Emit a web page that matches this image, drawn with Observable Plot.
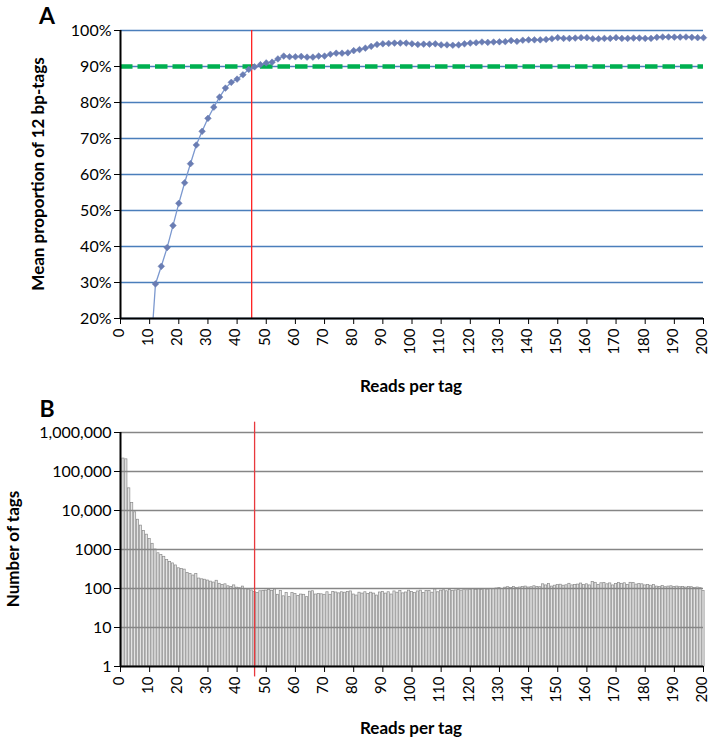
<!DOCTYPE html>
<html><head><meta charset="utf-8">
<script src="https://cdn.jsdelivr.net/npm/d3@7"></script>
<script src="https://cdn.jsdelivr.net/npm/@observablehq/plot@0.6"></script>
<style>
body{margin:0;background:#fff;}
#wrap{position:relative;width:709px;height:740px;font-family:Lato,"Open Sans",sans-serif;color:#000;}
#wrap svg{position:absolute;left:0;}
.abs{position:absolute;white-space:nowrap;line-height:1;}
.panel{font-weight:bold;font-size:23px;transform:translate(-50%,-50%);}
.title{font-weight:bold;font-size:17px;}
.vt{transform:translate(-50%,-50%) rotate(-90deg);}
.ht{transform:translate(-50%,-50%);}
</style></head><body><div id="wrap">
<div class="abs panel" style="left:47px;top:15px">A</div>
<div class="abs panel" style="left:47px;top:408px">B</div>
<div class="abs title vt" style="left:37px;top:174px">Mean proportion of 12 bp-tags</div>
<div class="abs title ht" style="left:411px;top:385px">Reads per tag</div>
<div class="abs title vt" style="left:12px;top:549px">Number of tags</div>
<div class="abs title ht" style="left:411px;top:727px">Reads per tag</div>
</div>
<script>
// ---- Panel A: mean proportion of 12 bp-tags vs reads per tag ----
const readsA = [10,12,14,16,18,20,22,24,26,28,30,32,34,36,38,40,42,44,46,48,50,
  52,54,56,58,60,62,64,66,68,70,72,74,76,78,80,82,84,86,88,90,92,94,96,98,100,
  102,104,106,108,110,112,114,116,118,120,122,124,126,128,130,132,134,136,138,140,
  142,144,146,148,150,152,154,156,158,160,162,164,166,168,170,172,174,176,178,180,
  182,184,186,188,190,192,194,196,198,200];
const proportionA = [6,29.6,34.5,39.7,45.8,52.0,57.7,63.0,68.2,72.0,75.6,78.7,81.5,84.0,85.6,86.5,87.7,89.2,89.9,90.5,91.0,
  91.2,92.1,92.9,92.7,92.7,92.8,92.6,92.6,92.9,92.9,93.4,93.7,93.7,93.8,94.4,94.7,95.1,95.6,96.1,96.3,96.4,96.5,96.5,96.5,96.3,
  96.1,96.2,96.2,96.3,96.0,96.0,95.9,96.0,96.3,96.5,96.6,96.8,96.7,96.8,96.85,96.9,97.2,97.0,97.3,97.4,
  97.4,97.4,97.5,97.7,98.0,97.8,97.8,97.9,98.0,98.0,97.7,97.7,97.8,97.8,98.0,97.8,97.8,97.9,97.9,97.8,
  97.8,98.1,98.2,98.2,98.15,98.15,98.2,98.1,98.0,98.0];
const thresholdA = 0.9;
const cutoffA = 45;
const yTicksA = [0.2,0.3,0.4,0.5,0.6,0.7,0.8,0.9,1.0];
const xTicks = [0,10,20,30,40,50,60,70,80,90,100,110,120,130,140,150,160,170,180,190,200];

// ---- Panel B: number of tags per reads-per-tag ----
const tagCountsB = [
  215000,205000,37000,15500,9000,5800,4100,3000,2400,1850,
  1400,1000,800,720,650,540,480,440,390,330,
  315,305,250,235,215,235,180,172,168,160,
  150,142,158,132,124,128,114,110,120,105,
  102,112,96,94,89,82,76,85,87,88,
  91,86,95,69,86,63,77,60,76,72,
  64,70,69,60,83,85,70,72,71,69,
  80,69,82,79,75,80,78,82,84,70,
  66,78,74,80,72,78,74,66,79,82,
  74,80,70,84,78,86,75,79,88,82,
  77,84,88,76,86,87,78,95,80,88,
  90,85,92,86,89,92,88,94,90,93,
  96,91,95,92,97,94,98,96,100,103,
  98,105,108,103,110,104,106,110,112,106,
  108,114,110,108,128,120,130,112,118,122,
  125,118,121,132,120,124,126,134,122,128,
  120,148,140,122,136,138,128,135,120,130,
  138,132,136,124,140,138,126,130,128,120,
  124,118,122,112,110,115,108,112,114,110,
  112,108,110,106,110,108,104,106,102,86];
const cutoffB = 46;
const yTicksB = [1,10,100,1000,10000,100000,1000000];
const yTickLabelsB = ["1","10","100","1000","10,000","100,000","1,000,000"];

const dataA = readsA.map((x,i)=>({x, y: proportionA[i]/100}));
const dataB = tagCountsB.map((v,i)=>({n: i+1, v}));
const style = {fontFamily:"Lato, 'Open Sans', sans-serif", fontSize:"16px", color:"#000", background:"transparent", overflow:"visible"};

// x axis: tick marks at exact positions, labels nudged slightly left so "200" stays inside
const xAxisMarks = () => [
  Plot.axisX({ticks:xTicks, tickSize:6, label:null, tickFormat:()=>""}),
  Plot.axisX({ticks:xTicks, tickSize:0, tickPadding:10, tickRotate:-90, fontSize:15, dx:-1.5, label:null, tickFormat:d=>String(d)})
];

const chartA = Plot.plot({
  width:709, height:395, marginLeft:120, marginRight:6, marginTop:30, marginBottom:77,
  x:{domain:[0,200]}, y:{domain:[0.2,1]},
  style,
  marks:[
    Plot.ruleY(yTicksA, {stroke:"#4a7ebb", strokeWidth:1.3}),
    Plot.ruleY([thresholdA], {stroke:"#00b050", strokeWidth:4.5, strokeDasharray:"12.5,5"}),
    Plot.ruleX([cutoffA], {stroke:"#ff2020", strokeWidth:1.3}),
    Plot.line(dataA, {x:"x", y:"y", stroke:"#7b98cf", strokeWidth:1.3, clip:true}),
    Plot.dot(dataA.filter(d=>d.y>=0.2), {x:"x", y:"y", symbol:"diamond2", r:3, fill:"#6a7db3", stroke:"#6a7db3", strokeWidth:0.5}),
    Plot.ruleX([0], {stroke:"#000", strokeWidth:2}),
    Plot.ruleY([0.2], {stroke:"#000", strokeWidth:2}),
    ...xAxisMarks(),
    Plot.axisY({ticks:yTicksA, tickSize:6, tickPadding:3, label:null, tickFormat:d=>Math.round(d*100)+"%"})
  ]
});
chartA.style.top = "0px";

const chartB = Plot.plot({
  width:709, height:340, marginLeft:120, marginRight:6, marginTop:32, marginBottom:74,
  x:{domain:[0,200]}, y:{type:"log", domain:[1,1000000]},
  style,
  marks:[
    Plot.rect(dataB, {x1:d=>d.n-0.5, x2:d=>d.n+0.5, y1:1, y2:"v", fill:"#e4e4e4", stroke:"#8a8a8a", strokeWidth:0.7, insetLeft:0.35, insetRight:0.35}),
    Plot.ruleY(yTicksB.slice(1), {stroke:"#868686", strokeWidth:1.6}),
    Plot.ruleX([cutoffB], {y1:1840000, y2:0.54, stroke:"#e8383d", strokeWidth:1.3}),
    Plot.ruleX([0], {stroke:"#000", strokeWidth:2}),
    Plot.ruleY([1], {stroke:"#000", strokeWidth:2}),
    ...xAxisMarks(),
    Plot.axisY({ticks:yTicksB, tickSize:6, tickPadding:3, label:null, tickFormat:d=>yTickLabelsB[yTicksB.indexOf(d)]})
  ]
});
chartB.style.top = "400px";

const wrap = document.getElementById("wrap");
wrap.insertBefore(chartB, wrap.firstChild);
wrap.insertBefore(chartA, wrap.firstChild);
</script>
</body></html>
